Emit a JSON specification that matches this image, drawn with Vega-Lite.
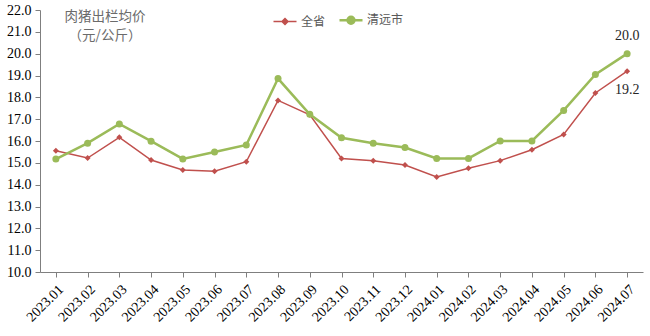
{
  "$schema": "https://vega.github.io/schema/vega-lite/v6.json",
  "width": 603,
  "height": 262,
  "autosize": {"type": "none"},
  "padding": {"left": 40, "top": 10, "right": 7, "bottom": 64},
  "background": "white",
  "config": {"view": {"stroke": null}},
  "title": {
    "text": ["肉猪出栏均价", "（元/公斤）"],
    "font": "Noto Sans CJK SC",
    "fontSize": 13.5,
    "fontWeight": "normal",
    "color": "#6b6b6b",
    "anchor": "start",
    "frame": "group",
    "align": "center",
    "baseline": "top",
    "offset": 0,
    "dx": 65,
    "dy": 39,
    "lineHeight": 19
  },
  "data": {
    "values": [
      {"month": "2023.01", "series": "全省", "value": 15.55},
      {"month": "2023.02", "series": "全省", "value": 15.22},
      {"month": "2023.03", "series": "全省", "value": 16.17},
      {"month": "2023.04", "series": "全省", "value": 15.13},
      {"month": "2023.05", "series": "全省", "value": 14.67},
      {"month": "2023.06", "series": "全省", "value": 14.62},
      {"month": "2023.07", "series": "全省", "value": 15.05},
      {"month": "2023.08", "series": "全省", "value": 17.86},
      {"month": "2023.09", "series": "全省", "value": 17.2},
      {"month": "2023.10", "series": "全省", "value": 15.2},
      {"month": "2023.11", "series": "全省", "value": 15.1},
      {"month": "2023.12", "series": "全省", "value": 14.9},
      {"month": "2024.01", "series": "全省", "value": 14.35},
      {"month": "2024.02", "series": "全省", "value": 14.75},
      {"month": "2024.03", "series": "全省", "value": 15.1},
      {"month": "2024.04", "series": "全省", "value": 15.6},
      {"month": "2024.05", "series": "全省", "value": 16.3},
      {"month": "2024.06", "series": "全省", "value": 18.2},
      {"month": "2024.07", "series": "全省", "value": 19.2},
      {"month": "2023.01", "series": "清远市", "value": 15.17},
      {"month": "2023.02", "series": "清远市", "value": 15.9},
      {"month": "2023.03", "series": "清远市", "value": 16.78},
      {"month": "2023.04", "series": "清远市", "value": 15.99},
      {"month": "2023.05", "series": "清远市", "value": 15.18},
      {"month": "2023.06", "series": "清远市", "value": 15.5},
      {"month": "2023.07", "series": "清远市", "value": 15.82},
      {"month": "2023.08", "series": "清远市", "value": 18.86},
      {"month": "2023.09", "series": "清远市", "value": 17.22},
      {"month": "2023.10", "series": "清远市", "value": 16.15},
      {"month": "2023.11", "series": "清远市", "value": 15.9},
      {"month": "2023.12", "series": "清远市", "value": 15.7},
      {"month": "2024.01", "series": "清远市", "value": 15.2},
      {"month": "2024.02", "series": "清远市", "value": 15.2},
      {"month": "2024.03", "series": "清远市", "value": 16.0},
      {"month": "2024.04", "series": "清远市", "value": 16.0},
      {"month": "2024.05", "series": "清远市", "value": 17.4},
      {"month": "2024.06", "series": "清远市", "value": 19.05},
      {"month": "2024.07", "series": "清远市", "value": 20.0}
    ]
  },
  "encoding": {
    "x": {
      "field": "month",
      "type": "ordinal",
      "title": null,
      "scale": {"type": "point", "padding": 0.5},
      "axis": {
        "labelAngle": -45,
        "labelAlign": "right",
        "labelBaseline": "top",
        "labelFont": "Liberation Serif",
        "labelFontSize": 14,
        "labelColor": "#000000",
        "labelPadding": 5,
        "tickSize": 5,
        "tickColor": "#7f7f7f",
        "domainColor": "#7f7f7f",
        "grid": false
      }
    },
    "y": {
      "field": "value",
      "type": "quantitative",
      "title": null,
      "scale": {"domain": [10, 22], "nice": false, "zero": false},
      "axis": {
        "values": [10, 11, 12, 13, 14, 15, 16, 17, 18, 19, 20, 21, 22],
        "format": ".1f",
        "labelFont": "Liberation Serif",
        "labelFontSize": 14,
        "labelColor": "#000000",
        "labelPadding": 4,
        "tickSize": 5,
        "tickColor": "#7f7f7f",
        "domainColor": "#7f7f7f",
        "grid": false
      }
    },
    "color": {
      "field": "series",
      "type": "nominal",
      "scale": {"domain": ["全省", "清远市"], "range": ["#C0504D", "#9BBB59"]},
      "legend": {
        "title": null,
        "orient": "none",
        "direction": "horizontal",
        "legendX": 239,
        "legendY": 4,
        "symbolSize": 529,
        "symbolStrokeWidth": 2,
        "labelFont": "Noto Sans CJK SC",
        "labelFontSize": 12,
        "labelColor": "#595959",
        "labelOffset": 10,
        "columnPadding": 8,
        "padding": 0,
        "encode": {
          "symbols": {
            "update": {
              "shape": {"signal": "datum.value === '全省' ? 'M-1,0H1M0,-0.26L0.26,0L0,0.26L-0.26,0Z' : 'M-1,0H1M0.3,0A0.3,0.3,0,1,1,-0.3,0A0.3,0.3,0,1,1,0.3,0Z'"},
              "size": {"value": 529},
              "fill": {"signal": "datum.value === '全省' ? '#C0504D' : '#9BBB59'"},
              "stroke": {"signal": "datum.value === '全省' ? '#C0504D' : '#9BBB59'"},
              "strokeWidth": {"signal": "datum.value === '全省' ? 1.5 : 2.5"},
              "opacity": {"value": 1}
            }
          }
        }
      }
    }
  },
  "layer": [
    {
      "transform": [{"filter": "datum.series === '全省'"}],
      "mark": {"type": "line", "strokeWidth": 1.5}
    },
    {
      "transform": [{"filter": "datum.series === '清远市'"}],
      "mark": {"type": "line", "strokeWidth": 2.5}
    },
    {
      "transform": [{"filter": "datum.series === '全省'"}],
      "mark": {"type": "point", "filled": true, "opacity": 1, "shape": "diamond", "size": 36}
    },
    {
      "transform": [{"filter": "datum.series === '清远市'"}],
      "mark": {"type": "point", "filled": true, "opacity": 1, "shape": "circle", "size": 49}
    },
    {
      "transform": [{"filter": "datum.month === '2024.07' && datum.series === '清远市'"}],
      "mark": {"type": "text", "font": "Liberation Serif", "fontSize": 14, "dy": -18, "color": "#262626"},
      "encoding": {
        "text": {"field": "value", "type": "quantitative", "format": ".1f"},
        "color": {"value": "#262626"}
      }
    },
    {
      "transform": [{"filter": "datum.month === '2024.07' && datum.series === '全省'"}],
      "mark": {"type": "text", "font": "Liberation Serif", "fontSize": 14, "dy": 19, "color": "#262626"},
      "encoding": {
        "text": {"field": "value", "type": "quantitative", "format": ".1f"},
        "color": {"value": "#262626"}
      }
    }
  ]
}
